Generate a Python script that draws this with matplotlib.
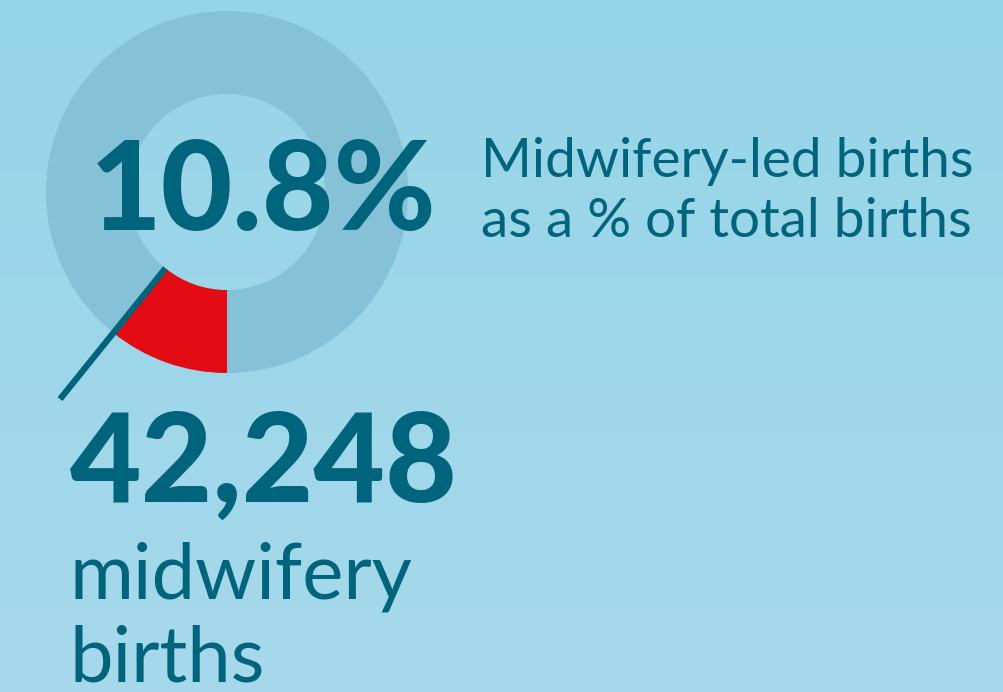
import numpy as np
import matplotlib.pyplot as plt

# data
share_labels = ['Midwifery-led', 'Other']
share_values = [10.8, 89.2]
share_colors = ['#e30b14', '#85c1d7']
headline_pct = '10.8%'
births_count = '42,248'
caption_lines = ['Midwifery-led births', 'as a % of total births']
count_lines = ['midwifery', 'births']

W, H = 1004, 692
text_color = '#00647c'

fig = plt.figure(figsize=(W / 100, H / 100), dpi=100)
ax = fig.add_axes([0, 0, 1, 1])

# soft vertical gradient background
grad = np.linspace(0, 1, 256).reshape(-1, 1)
top = np.array([0x96, 0xd4, 0xe8]) / 255
bot = np.array([0xa6, 0xd9, 0xeb]) / 255
img = top + (bot - top) * grad[:, :, None]
ax.imshow(img, extent=[0, W, 0, H], origin='upper', aspect='auto', zorder=0)

# donut
cx, cy = 227, H - 192
r_out, r_in = 181, 98
ax.pie(share_values, colors=share_colors, center=(cx, cy), radius=r_out,
       startangle=270, counterclock=False, frame=True,
       wedgeprops=dict(width=r_out - r_in, linewidth=0))
ax.set_xlim(0, W)
ax.set_ylim(0, H)
ax.set_aspect('auto')
ax.axis('off')

# pointer line along the edge of the red slice
ang = np.deg2rad(270 - share_values[0] / sum(share_values) * 360)
r0, r1 = r_in, 266
ax.plot([cx + r0 * np.cos(ang), cx + r1 * np.cos(ang)],
        [cy + r0 * np.sin(ang), cy + r1 * np.sin(ang)],
        color=text_color, lw=4.5, solid_capstyle='butt', zorder=5)

ax.text(90, H - 230, headline_pct, fontsize=89, fontfamily='Lato',
        fontweight='black', color=text_color, va='baseline', ha='left', zorder=6)
for i, line in enumerate(caption_lines):
    ax.text(481, H - (177 + 60 * i), line, fontsize=39.5, fontfamily='Lato',
            color=text_color, va='baseline', ha='left', zorder=6)
ax.text(70, H - 502, births_count, fontsize=89, fontfamily='Lato',
        fontweight='black', color=text_color, va='baseline', ha='left', zorder=6)
for i, line in enumerate(count_lines):
    ax.text(70, H - (598 + 84 * i), line, fontsize=56, fontfamily='Lato',
            color=text_color, va='baseline', ha='left', zorder=6)

fig.savefig('out.png', dpi=100)
